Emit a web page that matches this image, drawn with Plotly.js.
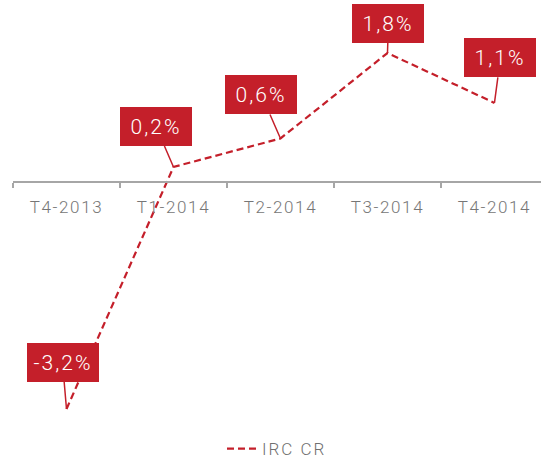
<!DOCTYPE html>
<html>
<head>
<meta charset="utf-8">
<script src="https://cdn.plot.ly/plotly-3.0.1.min.js"></script>
<style>
html,body{margin:0;padding:0;background:#fff;}
#chart{width:541px;height:458px;}
.xtick text{letter-spacing:1.6px;}
.annotation-text{letter-spacing:2px;}
.legendtext{letter-spacing:2px;}
</style>
</head>
<body>
<div id="chart"></div>
<script>
var categories = ["T4-2013", "T1-2014", "T2-2014", "T3-2014", "T4-2014"];
var values = [-3.2, 0.2, 0.6, 1.8, 1.1];
var labels = ["-3,2%", "0,2%", "0,6%", "1,8%", "1,1%"];
var seriesName = "IRC CR";

var red = "#c41f2a";
var yMin = -3.354, yMax = 2.545;

// label box offsets (pixels) relative to each point
var labelOffsetsX = [-4, -17.5, -19, 1, 6];
var labelOffsetsY = [-46.5, -40.5, -43.5, -30, -45];

var trace = {
  x: categories,
  y: values,
  type: "scatter",
  mode: "lines",
  name: seriesName,
  line: {color: red, width: 2.2, dash: "7px,4px"},
  hoverinfo: "skip"
};

var annotations = categories.map(function(c, i){
  return {
    x: c, y: values[i], xref: "x", yref: "y",
    text: labels[i],
    showarrow: true, arrowhead: 0, arrowwidth: 1.5, arrowcolor: red,
    ax: labelOffsetsX[i], ay: labelOffsetsY[i],
    bgcolor: red, borderpad: 0, borderwidth: 0,
    width: 72, height: 39,
    font: {family: "Roboto", size: 21, weight: 300, color: "#ffffff"}
  };
});

var layout = {
  width: 541, height: 458,
  margin: {l: 13, r: 0, t: 0, b: 38, autoexpand: false},
  paper_bgcolor: "#ffffff", plot_bgcolor: "#ffffff",
  showlegend: true,
  legend: {
    orientation: "h", x: 0.5, xanchor: "center", y: -0.069, yanchor: "middle",
    font: {family: "Roboto", size: 17, weight: 300, color: "#707070"}
  },
  xaxis: {
    type: "category",
    range: [-0.5, 4.435],
    anchor: "free",
    position: (0 - yMin) / (yMax - yMin),
    showline: true, linecolor: "#a6a6a6", linewidth: 1.5,
    ticks: "outside", ticklen: 5, tickwidth: 1.5, tickcolor: "#a6a6a6",
    tickson: "boundaries",
    ticklabelstandoff: 10,
    showgrid: false, zeroline: false,
    tickfont: {family: "Roboto", size: 17, weight: 300, color: "#767676"},
    fixedrange: true
  },
  yaxis: {
    range: [yMin, yMax],
    visible: false, showgrid: false, zeroline: false, fixedrange: true
  },
  annotations: annotations
};

Plotly.newPlot("chart", [trace], layout, {displayModeBar: false, staticPlot: true});
</script>
</body>
</html>
